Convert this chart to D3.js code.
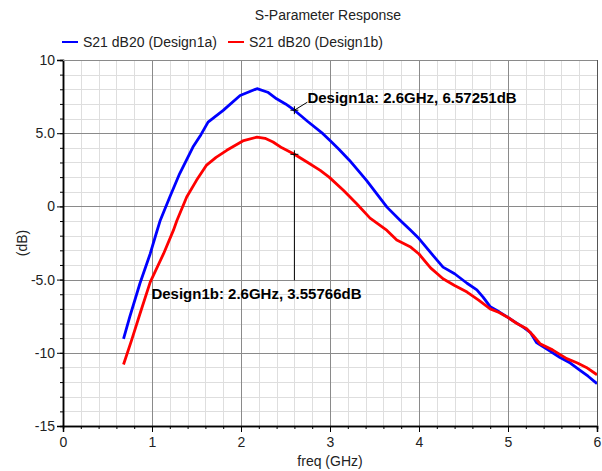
<!DOCTYPE html>
<html>
<head>
<meta charset="utf-8">
<script src="https://cdn.jsdelivr.net/npm/d3@7"></script>
<style>
  body { margin: 0; background: #fff; }
  text { font-family: "Liberation Sans", Arial, sans-serif; }
</style>
</head>
<body>
<div id="chart"></div>
<script>
// S21 curves
var freqA = [0.68, 0.75, 0.865, 0.98, 1.05, 1.09, 1.2, 1.31, 1.46, 1.55, 1.63, 1.8, 1.99, 2.1, 2.18, 2.3, 2.4, 2.5, 2.6, 2.75, 2.92, 3.0, 3.1, 3.22, 3.41, 3.64, 3.79, 3.9, 4.0, 4.15, 4.27, 4.4, 4.54, 4.65, 4.72, 4.8, 4.9, 4.99, 5.08, 5.17, 5.25, 5.32, 5.45, 5.58, 5.7, 5.81, 5.9, 6.0];
var dbA = [-9.05, -7.55, -5.25, -3.23, -1.8, -1.0, 0.64, 2.23, 4.05, 4.9, 5.76, 6.56, 7.58, 7.85, 8.04, 7.8, 7.35, 7.0, 6.57, 5.8, 4.97, 4.5, 3.9, 3.14, 1.78, -0.05, -0.96, -1.6, -2.2, -3.3, -4.15, -4.6, -5.25, -5.7, -6.2, -6.85, -7.2, -7.55, -7.9, -8.25, -8.6, -9.3, -9.8, -10.3, -10.7, -11.2, -11.6, -12.1];

var freqB = [0.68, 0.77, 0.865, 0.98, 1.13, 1.24, 1.28, 1.39, 1.5, 1.61, 1.72, 1.84, 2.03, 2.18, 2.27, 2.36, 2.46, 2.6, 2.75, 2.89, 2.99, 3.15, 3.3, 3.45, 3.64, 3.75, 3.9, 4.0, 4.13, 4.27, 4.4, 4.54, 4.67, 4.8, 4.9, 4.99, 5.1, 5.21, 5.28, 5.36, 5.5, 5.66, 5.78, 5.88, 6.0];
var dbB = [-10.8, -9.15, -7.33, -5.17, -3.23, -1.64, -0.96, 0.64, 1.78, 2.8, 3.35, 3.83, 4.5, 4.73, 4.65, 4.4, 4.0, 3.56, 3.0, 2.46, 2.0, 1.1, 0.18, -0.8, -1.64, -2.3, -2.75, -3.25, -4.2, -4.94, -5.4, -5.85, -6.4, -7.0, -7.25, -7.55, -8.0, -8.36, -8.8, -9.38, -9.8, -10.4, -10.7, -11.0, -11.5];

var seriesNames = ["S21 dB20 (Design1a)", "S21 dB20 (Design1b)"];
var seriesColors = ["#0000ff", "#ff0000"];

var xTicks = [0, 1, 2, 3, 4, 5, 6];
var yTicks = [10, 5, 0, -5, -10, -15];
var yTickLabels = ["10", "5.0", "0", "-5.0", "-10", "-15"];

var markerFreq = 2.6;
var markerA = 6.57251;
var markerB = 3.55766;
var markerLabels = ["Design1a: 2.6GHz, 6.57251dB", "Design1b: 2.6GHz, 3.55766dB"];

var svgWidth = 602;
var svgHeight = 471;

var margin = { top: 60, right: 5, bottom: 45, left: 63 };
var width = 597 - margin.left;
var height = 426 - margin.top;

var svg = d3.select("#chart")
  .append("svg")
  .attr("width", svgWidth)
  .attr("height", svgHeight);

var x = d3.scaleLinear().domain([0, 6]).range([0, width]);
var y = d3.scaleLinear().domain([-15, 10]).range([height, 0]);

var g = svg.append("g")
  .attr("transform", `translate(${margin.left}, ${margin.top})`);

// minor grid
g.append("g").selectAll("line")
  .data(d3.range(0, 6.01, 0.2))
  .enter().append("line")
  .attr("x1", d => Math.round(x(d)) + 0.5).attr("x2", d => Math.round(x(d)) + 0.5)
  .attr("y1", 0).attr("y2", height)
  .attr("stroke", "#dedede");
g.append("g").selectAll("line")
  .data(d3.range(-15, 10.01, 1))
  .enter().append("line")
  .attr("y1", d => Math.round(y(d)) + 0.5).attr("y2", d => Math.round(y(d)) + 0.5)
  .attr("x1", 0).attr("x2", width)
  .attr("stroke", "#dedede");

// major grid
g.append("g").selectAll("line")
  .data(xTicks)
  .enter().append("line")
  .attr("x1", d => Math.round(x(d)) + 0.5).attr("x2", d => Math.round(x(d)) + 0.5)
  .attr("y1", 0).attr("y2", height)
  .attr("stroke", "#8a8a8a");
g.append("g").selectAll("line")
  .data(yTicks)
  .enter().append("line")
  .attr("y1", d => Math.round(y(d)) + 0.5).attr("y2", d => Math.round(y(d)) + 0.5)
  .attr("x1", 0).attr("x2", width)
  .attr("stroke", "#8a8a8a");

// axes: minor ticks then major
var xMinor = d3.axisBottom(x).tickValues(d3.range(0, 6.01, 0.2)).tickSize(3).tickFormat("");
var yMinor = d3.axisLeft(y).tickValues(d3.range(-15, 10.01, 1)).tickSize(3).tickFormat("");
g.append("g").attr("transform", `translate(0, ${height})`).call(xMinor);
g.append("g").call(yMinor);

var xAxis = g.append("g")
  .attr("transform", `translate(0, ${height})`)
  .call(d3.axisBottom(x).tickValues(xTicks).tickSize(6).tickPadding(5).tickFormat(d3.format("d")));
var yAxis = g.append("g")
  .call(d3.axisLeft(y).tickValues(yTicks).tickSize(6).tickPadding(2)
    .tickFormat((d, i) => yTickLabels[i]));

g.selectAll(".domain").attr("stroke", "#000").attr("stroke-width", 1.5);
g.selectAll(".tick line").attr("stroke", "#000");
g.selectAll(".tick text")
  .attr("font-family", "'Liberation Sans', Arial, sans-serif")
  .attr("font-size", 14)
  .attr("fill", "#222");

// curves
var line = d3.line()
  .x(d => x(d[0]))
  .y(d => y(d[1]));

var dataA = freqA.map((f, i) => [f, dbA[i]]);
var dataB = freqB.map((f, i) => [f, dbB[i]]);

g.append("path").datum(dataA)
  .attr("d", line).attr("fill", "none")
  .attr("stroke", seriesColors[0]).attr("stroke-width", 2.8)
  .attr("stroke-linejoin", "round");
g.append("path").datum(dataB)
  .attr("d", line).attr("fill", "none")
  .attr("stroke", seriesColors[1]).attr("stroke-width", 2.8)
  .attr("stroke-linejoin", "round");

// markers
function cross(px, py) {
  g.append("line").attr("x1", px - 4).attr("x2", px + 4).attr("y1", py).attr("y2", py).attr("stroke", "#000");
  g.append("line").attr("x1", px).attr("x2", px).attr("y1", py - 4).attr("y2", py + 4).attr("stroke", "#000");
}
var mxa = x(markerFreq), mya = y(markerA);
var mxb = x(markerFreq), myb = y(markerB);
cross(mxa, mya);
cross(mxb, myb);

g.append("line")
  .attr("x1", mxa).attr("y1", mya)
  .attr("x2", mxa + 13).attr("y2", mya - 8)
  .attr("stroke", "#000");
g.append("text")
  .attr("x", mxa + 13).attr("y", mya - 7)
  .attr("font-size", 15).attr("font-weight", "bold")
  .text(markerLabels[0]);

g.append("line")
  .attr("x1", mxb).attr("y1", myb)
  .attr("x2", mxb).attr("y2", myb + 126)
  .attr("stroke", "#000");
g.append("text")
  .attr("x", mxb - 143).attr("y", myb + 145)
  .attr("font-size", 15).attr("font-weight", "bold")
  .text(markerLabels[1]);

// plot frame top/right
g.append("line").attr("x1", 0).attr("x2", width).attr("y1", 0.5).attr("y2", 0.5).attr("stroke", "#8a8a8a");
g.append("line").attr("x1", width + 0.5).attr("x2", width + 0.5).attr("y1", 0).attr("y2", height).attr("stroke", "#555");

// title, legend, axis labels
svg.append("text")
  .attr("x", 328).attr("y", 20)
  .attr("text-anchor", "middle")
  .attr("font-size", 14).attr("fill", "#222")
  .text("S-Parameter Response");

var legendX = [62, 228];
seriesNames.forEach(function(name, i) {
  svg.append("line")
    .attr("x1", legendX[i]).attr("x2", legendX[i] + 16)
    .attr("y1", 42).attr("y2", 42)
    .attr("stroke", seriesColors[i]).attr("stroke-width", 2);
  svg.append("text")
    .attr("x", legendX[i] + 21).attr("y", 47)
    .attr("font-size", 14).attr("fill", "#222")
    .text(name);
});

svg.append("text")
  .attr("x", 330).attr("y", 466)
  .attr("text-anchor", "middle")
  .attr("font-size", 14).attr("fill", "#222")
  .text("freq (GHz)");

svg.append("text")
  .attr("transform", "translate(27, 243) rotate(-90)")
  .attr("text-anchor", "middle")
  .attr("font-size", 14).attr("fill", "#222")
  .text("(dB)");
</script>
</body>
</html>
